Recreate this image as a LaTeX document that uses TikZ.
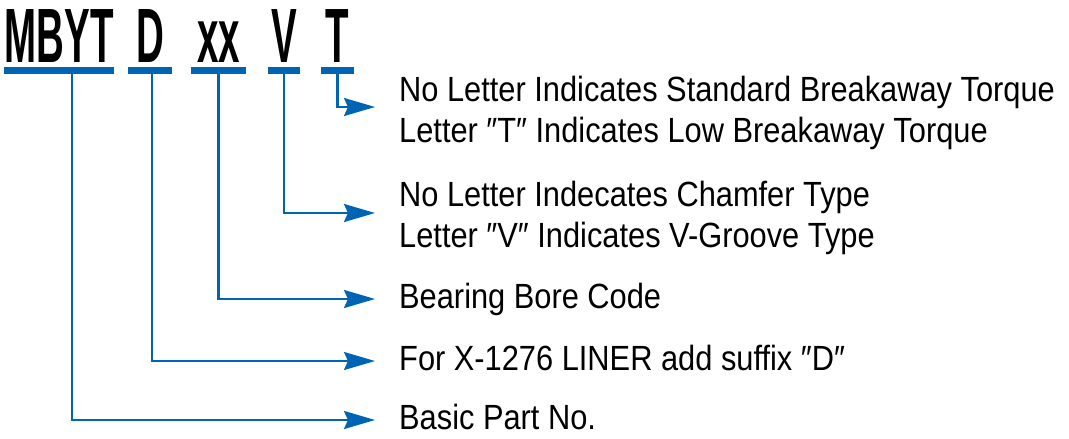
\documentclass[tikz,border=0pt]{standalone}
\usepackage{fontspec}
\usetikzlibrary{arrows.meta}
\newfontfamily\codefont[FakeStretch=0.5]{Liberation Sans Bold}
\newfontfamily\labelfont[FakeStretch=0.88]{Liberation Sans}
\definecolor{codeblue}{RGB}{0,100,180}
\tikzset{
  code/.style={font=\fontsize{77}{77}\selectfont\codefont, inner xsep=0pt, inner ysep=8.5pt, text depth=0pt, anchor=base},
  bar/.style={codeblue, line width=7pt},
  pointer/.style={codeblue, line width=2.2pt, -{Stealth[length=31pt,width=18pt,inset=4pt]}, shorten >=24pt},
  label/.style={font=\fontsize{35}{41}\selectfont\labelfont, inner sep=0pt, anchor=west, text height=25pt, text depth=7pt},
  label2/.style={font=\fontsize{35}{41}\selectfont\labelfont, inner sep=0pt, anchor=west, align=left}
}
\begin{document}
\begin{tikzpicture}[x=1pt, y=-1pt]
  \useasboundingbox (0, 0) rectangle (1069, 439);

  % the part number, one node per field
  \node[code, minimum width=106pt] (mbyt) at (59, 62) {MBYT};
  \node[code, minimum width=44pt] (dcode) at (150, 62) {D};
  \node[code, minimum width=55pt] (xxcode) at (218.5, 62) {xx};
  \node[code, minimum width=32pt] (vcode) at (284, 62) {V};
  \node[code, minimum width=33pt] (tcode) at (337.5, 62) {T};

  \draw[bar] (mbyt.south west) -- (mbyt.south east);
  \draw[bar] (dcode.south west) -- (dcode.south east);
  \draw[bar] (xxcode.south west) -- (xxcode.south east);
  \draw[bar] (vcode.south west) -- (vcode.south east);
  \draw[bar] (tcode.south west) -- (tcode.south east);

  % what each field means
  \node[label2] (torque) at (399, 113) {No Letter Indicates Standard Breakaway Torque\\Letter ″T″ Indicates Low Breakaway Torque};
  \node[label2] (groove) at (399, 218) {No Letter Indecates Chamfer Type\\Letter ″V″ Indicates V-Groove Type};
  \node[label] (bore) at (399, 299) {Bearing Bore Code};
  \node[label] (liner) at (399, 361) {For X-1276 LINER add suffix ″D″};
  \node[label] (basic) at (399, 420) {Basic Part No.};

  \draw[pointer] (tcode.south) |- ([yshift=6pt]torque.west);
  \draw[pointer] (vcode.south) |- ([yshift=5pt]groove.west);
  \draw[pointer] (xxcode.south) |- (bore.west);
  \draw[pointer] ([xshift=2pt]dcode.south) |- (liner.west);
  \draw[pointer] ([xshift=13pt]mbyt.south) |- (basic.west);
\end{tikzpicture}
\end{document}
